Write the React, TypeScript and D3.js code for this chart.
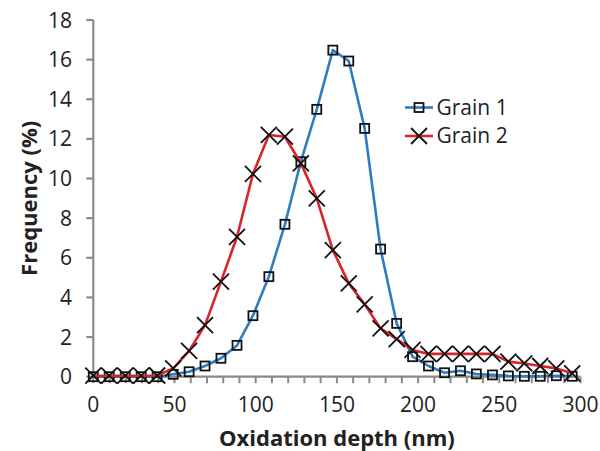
import React from "react";
import * as d3 from "d3";

const depth = [0, 9.8, 19.7, 29.5, 39.3, 49.2, 59.0, 68.8, 78.6, 88.5, 98.3, 108.1, 118.0, 127.8, 137.6, 147.5, 157.3, 167.1, 176.9, 186.8, 196.6, 206.4, 216.3, 226.1, 235.9, 245.8, 255.6, 265.4, 275.2, 285.1, 294.9];
const grain1 = [0, 0, 0, 0, 0, 0.12, 0.25, 0.54, 0.93, 1.58, 3.08, 5.05, 7.69, 10.85, 13.49, 16.48, 15.93, 12.53, 6.44, 2.69, 1.01, 0.54, 0.2, 0.3, 0.14, 0.09, 0.04, 0.02, 0.02, 0.05, 0.02];
const grain2 = [0.05, 0.05, 0.05, 0.05, 0.06, 0.42, 1.3, 2.6, 4.8, 7.06, 10.23, 12.2, 12.11, 10.77, 9.0, 6.39, 4.71, 3.65, 2.44, 1.9, 1.35, 1.15, 1.15, 1.15, 1.15, 1.15, 0.76, 0.67, 0.54, 0.42, 0.17];
const xTicks = [0, 50, 100, 150, 200, 250, 300];
const xMinorTicks = d3.range(0, 301, 10);
const yTicks = [0, 2, 4, 6, 8, 10, 12, 14, 16, 18];
const seriesNames = ["Grain 1", "Grain 2"];

const BLUE = "#2e7dc0";
const RED = "#d8232a";
const AXIS = "#8a8a8a";
const FONT = "'Open Sans', sans-serif";

export default function App() {
  const x = d3.scaleLinear().domain([0, 300]).range([93.3, 580.5]);
  const y = d3.scaleLinear().domain([0, 18]).range([376.7, 20]);
  const line = d3
    .line<number>()
    .x((_, i) => x(depth[i]))
    .y((d) => y(d))
    .curve(d3.curveCatmullRom.alpha(0.5));
  const lineStraight = d3
    .line<number>()
    .x((_, i) => x(depth[i]))
    .y((d) => y(d));

  const square = (cx: number, cy: number, key: string | number) => (
    <rect key={key} x={cx - 4.5} y={cy - 4.5} width={9} height={9} fill="none" stroke="#111" strokeWidth={1.8} />
  );
  const cross = (cx: number, cy: number, key: string | number) => (
    <path key={key} d={`M${cx - 8},${cy - 8}L${cx + 8},${cy + 8}M${cx - 8},${cy + 8}L${cx + 8},${cy - 8}`} stroke="#111" strokeWidth={1.8} fill="none" />
  );

  // smooth only in the low, dense parts; peaks stay sharp as in the reference
  const g1Path = lineStraight(grain1) || "";
  const g2Path = lineStraight(grain2) || "";
  void line;

  return (
    <svg width={600} height={451} style={{ position: "absolute", left: 0, top: 0, background: "#fff" }}>
      <rect width={600} height={451} fill="#fff" />
      {/* axes */}
      <line x1={x(0)} x2={x(0)} y1={y(18)} y2={y(0)} stroke={AXIS} strokeWidth={2.2} />
      <line x1={x(0)} x2={x(300)} y1={y(0)} y2={y(0)} stroke={AXIS} strokeWidth={2.2} />
      {yTicks.map((t) => (
        <g key={"y" + t}>
          <line x1={x(0) - 7} x2={x(0)} y1={y(t)} y2={y(t)} stroke={AXIS} strokeWidth={2.2} />
          <text x={72} y={y(t)} dy="0.36em" textAnchor="end" fontFamily={FONT} fontSize={21} fill="#222">
            {t}
          </text>
        </g>
      ))}
      {xMinorTicks.map((t) => (
        <line key={"xm" + t} x1={x(t)} x2={x(t)} y1={y(0)} y2={y(0) + 6.5} stroke={AXIS} strokeWidth={2} />
      ))}
      {xTicks.map((t) => (
        <text key={"x" + t} x={x(t)} y={411.5} textAnchor="middle" fontFamily={FONT} fontSize={21} fill="#222">
          {t}
        </text>
      ))}
      <text x={(x(0) + x(300)) / 2} y={446} textAnchor="middle" fontFamily={FONT} fontSize={22} fontWeight="bold" fill="#222">
        Oxidation depth (nm)
      </text>
      <text
        transform={`translate(37,${(y(0) + y(18)) / 2}) rotate(-90)`}
        textAnchor="middle"
        fontFamily={FONT}
        fontSize={22}
        fontWeight="bold"
        fill="#222"
      >
        Frequency (%)
      </text>
      {/* series */}
      <path d={g1Path} fill="none" stroke={BLUE} strokeWidth={2.6} strokeLinejoin="round" />
      {grain1.map((v, i) => square(x(depth[i]), y(v), "s" + i))}
      <path d={g2Path} fill="none" stroke={RED} strokeWidth={2.6} strokeLinejoin="round" />
      {grain2.map((v, i) => cross(x(depth[i]), y(v), "c" + i))}
      {/* legend */}
      <line x1={405} x2={433} y1={107.5} y2={107.5} stroke={BLUE} strokeWidth={2.6} />
      {square(419, 107.5, "ls")}
      <text x={436.5} y={114.5} fontFamily={FONT} fontSize={21} fill="#222">
        {seriesNames[0]}
      </text>
      <line x1={405} x2={433} y1={136} y2={136} stroke={RED} strokeWidth={2.6} />
      {cross(419, 136, "lc")}
      <text x={436.5} y={143} fontFamily={FONT} fontSize={21} fill="#222">
        {seriesNames[1]}
      </text>
    </svg>
  );
}
